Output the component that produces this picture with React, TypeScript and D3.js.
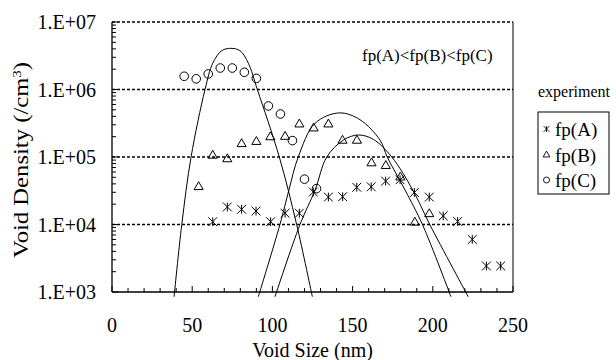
import React from 'react'
import * as d3 from 'd3'

// experiment points (void size nm, density /cm3)
const expAx = [62.8, 71.9, 80.8, 89.8, 98.9, 107.9, 116.8, 125.5, 134.9, 143.8, 152.6, 161.6, 170.6, 179.6, 188.5, 197.8, 206.5, 215.5, 224.6, 233.4, 242.3]
const expAy = [1.1e4, 1.82e4, 1.68e4, 1.58e4, 1.1e4, 1.47e4, 1.47e4, 3.03e4, 2.55e4, 2.58e4, 3.56e4, 3.62e4, 4.4e4, 4.6e4, 2.98e4, 2.55e4, 1.34e4, 1.11e4, 6.0e3, 2.43e3, 2.43e3]

const expBx = [54.0, 62.8, 71.9, 80.8, 90.0, 98.7, 107.9, 116.8, 125.7, 134.9, 143.7, 152.7, 161.8, 170.7, 179.8, 188.8, 197.8]
const expBy = [3.6e4, 1.05e5, 9.3e4, 1.56e5, 1.68e5, 1.97e5, 2.0e5, 3.05e5, 2.66e5, 3.05e5, 1.75e5, 1.75e5, 8.1e4, 7.4e4, 5.0e4, 1.07e4, 1.43e4]

const expCx = [45, 52.5, 60, 67.5, 75, 82.5, 90, 97.5, 105, 112.5, 120, 127.5]
const expCy = [1.57e6, 1.44e6, 1.7e6, 2.08e6, 2.08e6, 1.8e6, 1.46e6, 5.7e5, 4.34e5, 1.75e5, 4.7e4, 3.4e4]

// calculated curves
const calcAx = [101.6, 117.2, 126.6, 133.9, 144.2, 153.6, 163.0, 174.4, 187.5, 198.3, 222.1]
const calcAy = [850, 1e4, 3.24e4, 1e5, 1.78e5, 2.12e5, 1.82e5, 1e5, 3.24e4, 9.8e3, 850]

const calcBx = [91.2, 104.7, 110.3, 116.1, 126.6, 141.7, 154.6, 167.1, 171.6, 182.7, 193.7, 211.3]
const calcBy = [850, 1e4, 3.24e4, 1e5, 3.16e5, 4.5e5, 3.57e5, 1.78e5, 1e5, 3.24e4, 9.8e3, 850]

const calcCx = [38.7, 43.5, 49.3, 58.0, 62.8, 68.4, 74.0, 79.8, 85.0, 90.6, 104.3, 115.1, 124.9]
const calcCy = [850, 1e4, 1e5, 1e6, 2.45e6, 3.76e6, 4.07e6, 3.76e6, 2.45e6, 1e6, 1e5, 1e4, 850]

const xTicks = [0, 50, 100, 150, 200, 250]
const yTicks = [1e3, 1e4, 1e5, 1e6, 1e7]
const yTickLabels = ['1.E+03', '1.E+04', '1.E+05', '1.E+06', '1.E+07']
const legendNames = ['fp(A)', 'fp(B)', 'fp(C)']

const W = 616
const H = 360
const margin = { top: 22, right: 103, bottom: 68, left: 112 }
const FONT = "'Liberation Serif','Times New Roman',serif"

// marker shape: vertical bar + X
function asterisk(r: number) {
  return `M0,${-r}V${r}M${-r},${-r}L${r},${r}M${-r},${r}L${r},${-r}`
}

export default function App() {
  const x = d3.scaleLinear().domain([0, 250]).range([margin.left, W - margin.right])
  const y = d3.scaleLog().domain([1e3, 1e7]).range([H - margin.bottom, margin.top])
  const [x0, x1] = x.range()
  const [y0, y1] = y.range()

  const line = d3
    .line<[number, number]>()
    .x((d) => x(d[0]))
    .y((d) => y(d[1]))
    .curve(d3.curveCatmullRom.alpha(0.5))

  const curves = [
    d3.zip(calcAx, calcAy) as [number, number][],
    d3.zip(calcBx, calcBy) as [number, number][],
    d3.zip(calcCx, calcCy) as [number, number][],
  ]

  const minorY: number[] = []
  for (let e = 3; e < 7; e++) for (let m = 2; m <= 9; m++) minorY.push(m * Math.pow(10, e))
  const minorX = d3.range(0, 251, 10)

  const tri = d3.symbol(d3.symbolTriangle, 36)()
  const triSmall = d3.symbol(d3.symbolTriangle, 20)()

  const legendY = [129, 155, 180]

  return (
    <svg width={W} height={H} style={{ position: 'absolute', left: 0, top: 0, background: '#fff' }} fontFamily={FONT}>
      {/* gridlines (dotted) */}
      {yTicks.slice(1).map((t) => (
        <line key={t} x1={x0} x2={x1} y1={y(t)} y2={y(t)} stroke="#000" strokeWidth={1.6} strokeDasharray="3,2" />
      ))}
      {/* frame */}
      <line x1={x1} x2={x1} y1={y1} y2={y0} stroke="#000" strokeWidth={1} />
      <line x1={x0} x2={x0} y1={y1} y2={y0} stroke="#000" strokeWidth={1.3} />
      <line x1={x0} x2={x1} y1={y0} y2={y0} stroke="#000" strokeWidth={1.3} />

      {/* y ticks */}
      {minorY.map((t) => (
        <line key={t} x1={x0} x2={x0 + 4} y1={y(t)} y2={y(t)} stroke="#000" strokeWidth={1} />
      ))}
      {yTicks.map((t, i) => (
        <g key={t}>
          <line x1={x0} x2={x0 + 6} y1={y(t)} y2={y(t)} stroke="#000" strokeWidth={1} />
          <text x={x0 - 16} y={y(t) + 7} textAnchor="end" fontSize={20}>
            {yTickLabels[i]}
          </text>
        </g>
      ))}

      {/* x ticks */}
      {minorX.map((t) => (
        <line key={t} x1={x(t)} x2={x(t)} y1={y0} y2={y0 - (t % 50 === 0 ? 6 : 4)} stroke="#000" strokeWidth={1} />
      ))}
      {xTicks.map((t) => (
        <text key={t} x={x(t)} y={y0 + 40} textAnchor="middle" fontSize={20}>
          {t}
        </text>
      ))}

      {/* calculated curves */}
      {curves.map((c, i) => (
        <path key={i} d={line(c) || ''} fill="none" stroke="#000" strokeWidth={1} />
      ))}

      {/* experiment points */}
      {expAx.map((v, i) => (
        <path key={'a' + i} d={asterisk(4.4)} transform={`translate(${x(v)},${y(expAy[i])})`} fill="none" stroke="#000" strokeWidth={1} />
      ))}
      {expBx.map((v, i) => (
        <path key={'b' + i} d={tri || ''} transform={`translate(${x(v)},${y(expBy[i])})`} fill="none" stroke="#000" strokeWidth={1} />
      ))}
      {expCx.map((v, i) => (
        <circle key={'c' + i} cx={x(v)} cy={y(expCy[i])} r={4.3} fill="none" stroke="#000" strokeWidth={1} />
      ))}

      <text x={362} y={61} fontSize={17}>
        fp(A)&lt;fp(B)&lt;fp(C)
      </text>

      {/* legend */}
      <text x={574} y={97} textAnchor="middle" fontSize={16}>
        experiment
      </text>
      <rect x={538} y={112} width={71} height={82} fill="none" stroke="#000" strokeWidth={1} />
      <path d={asterisk(2.8)} transform={`translate(546.5,${legendY[0]})`} fill="none" stroke="#000" strokeWidth={0.9} />
      <path d={triSmall || ''} transform={`translate(546.5,${legendY[1]})`} fill="none" stroke="#000" strokeWidth={0.9} />
      <circle cx={546.5} cy={legendY[2]} r={3} fill="none" stroke="#000" strokeWidth={0.9} />
      {legendNames.map((n, i) => (
        <text key={n} x={555} y={legendY[i] + 6.5} fontSize={19}>
          {n}
        </text>
      ))}

      {/* axis titles */}
      <text x={(x0 + x1) / 2} y={H - 3} textAnchor="middle" fontSize={20}>
        Void Size (nm)
      </text>
      <text
        transform={`translate(28,160) rotate(-90)`}
        textAnchor="middle"
        fontSize={20}
        textLength={196}
        lengthAdjust="spacingAndGlyphs"
      >
        Void Density (/cm<tspan baselineShift="super" fontSize={12}>3</tspan>)
      </text>
    </svg>
  )
}
